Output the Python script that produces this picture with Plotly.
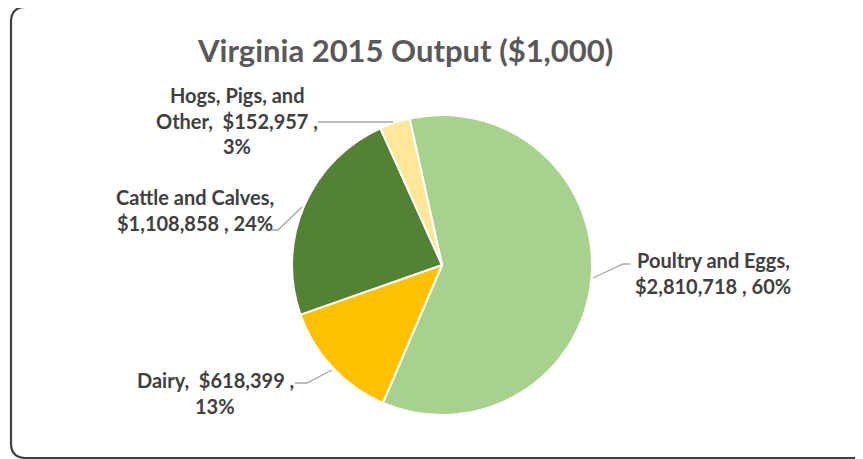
import plotly.graph_objects as go

# -- Data ---------------------------------------------------------------------

categories = ["Poultry and Eggs", "Dairy", "Cattle and Calves", "Hogs, Pigs, and Other"]
values = [2810718, 618399, 1108858, 152957]
colors = ["#A9D18E", "#FFC000", "#548235", "#FFE699"]

TITLE = "Virginia 2015 Output ($1,000)"

# the page body has an 8px margin, so the figure is drawn 8px in from the
# window corner; work in window pixels and shift here
OFF = 8
W, H = 863 - OFF, 459 - OFF
LABEL_COLOR = "#404040"
TITLE_COLOR = "#595959"
FONT = "Lato, 'Open Sans', sans-serif"


def px(x, y):
    """Window pixel position (top-left origin) -> paper coordinates."""
    return (x - OFF) / W, 1 - (y - OFF) / H


total = sum(values)
pct = [round(v / total * 100) for v in values]
money = [f"${v:,}" for v in values]

# Excel-style data labels, broken the way the original wraps them
label_lines = [
    ["Poultry and Eggs,", f"{money[0]} , {pct[0]}%"],
    [f"Dairy,\u00a0\u00a0{money[1]} ,", f"{pct[1]}%"],
    ["Cattle and Calves,", f"{money[2]} , {pct[2]}%"],
    ["Hogs, Pigs, and", f"Other,\u00a0\u00a0{money[3]} ,", f"{pct[3]}%"],
]
# label block centre x and first-line y (pixels)
label_pos = [(713, 260), (215, 380), (195, 197), (237, 95)]
LINE_STEP = 25.5

# leader lines (pixels)
leaders = [
    [(593, 278), (623, 264), (630, 264)],
    [(295, 383), (307, 383), (332, 370)],
    [(272, 230), (278, 230), (302, 207)],
    [(318, 122), (393, 122)],
]

# -- Figure -------------------------------------------------------------------

cx, cy, r = 442, 265, 150
x0, y1 = px(cx - r, cy - r)
x1, y0 = px(cx + r, cy + r)

fig = go.Figure(
    go.Pie(
        labels=categories,
        values=values,
        sort=False,
        direction="clockwise",
        rotation=-12.5,
        textinfo="none",
        hoverinfo="label+value+percent",
        marker={"colors": colors, "line": {"color": "white", "width": 2}},
        domain={"x": [x0, x1], "y": [y0, y1]},
        showlegend=False,
    )
)

annotations = []
tx, ty = px(405, 50)
annotations.append(
    dict(
        text=f"<b>{TITLE}</b>", x=tx, y=ty, xref="paper", yref="paper",
        xanchor="center", yanchor="middle", showarrow=False,
        font={"family": FONT, "size": 31, "color": TITLE_COLOR},
    )
)
for lines, (lx, ly) in zip(label_lines, label_pos):
    for i, line in enumerate(lines):
        ax, ay = px(lx, ly + i * LINE_STEP)
        annotations.append(
            dict(
                text=f"<b>{line}</b>", x=ax, y=ay, xref="paper", yref="paper",
                xanchor="center", yanchor="middle", showarrow=False,
                font={"family": FONT, "size": 20, "color": LABEL_COLOR},
            )
        )

shapes = []
for pts in leaders:
    path = "M " + " L ".join(f"{px(x, y)[0]:.5f},{px(x, y)[1]:.5f}" for x, y in pts)
    shapes.append(
        dict(type="path", path=path, xref="paper", yref="paper",
             line={"color": "#A6A6A6", "width": 1.3})
    )

# chart-area frame with rounded corners (cut off on the right / bottom)
rx, ry = 15 / W, 15 / H
L, T = px(11, 7)
R, B = px(880, 458)
frame = (
    f"M {R},{T} L {L + rx},{T} Q {L},{T} {L},{T - ry} "
    f"L {L},{B + ry} Q {L},{B} {L + rx},{B} L {R},{B}"
)
shapes.append(
    dict(type="path", path=frame, xref="paper", yref="paper",
         line={"color": "#404040", "width": 2.2})
)

fig.update_layout(
    width=W,
    height=H,
    margin={"l": 0, "r": 0, "t": 0, "b": 0},
    paper_bgcolor="white",
    plot_bgcolor="white",
    annotations=annotations,
    shapes=shapes,
    font={"family": FONT},
)

fig.write_html("out.html")
